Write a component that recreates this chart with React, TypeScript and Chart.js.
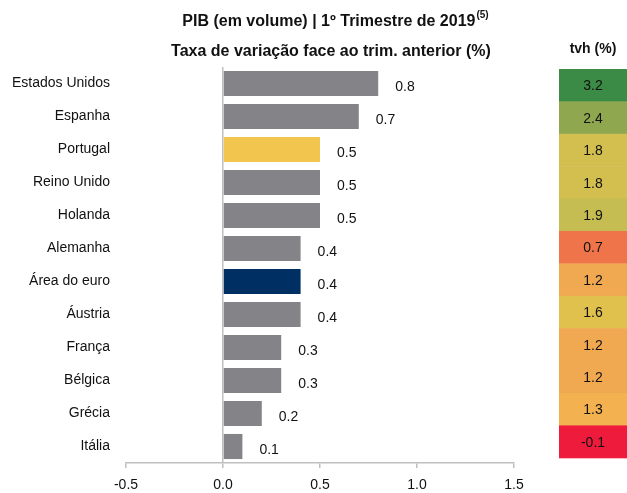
import React, { useEffect, useRef } from "react";
import { Chart, registerables } from "chart.js";

Chart.register(...registerables);

const countries = [
  "Estados Unidos",
  "Espanha",
  "Portugal",
  "Reino Unido",
  "Holanda",
  "Alemanha",
  "Área do euro",
  "Áustria",
  "França",
  "Bélgica",
  "Grécia",
  "Itália",
];
const qoqValues = [0.8, 0.7, 0.5, 0.5, 0.5, 0.4, 0.4, 0.4, 0.3, 0.3, 0.2, 0.1];
const barColors = [
  "#848488", "#848488", "#f2c54e", "#848488", "#848488", "#848488",
  "#003063", "#848488", "#848488", "#848488", "#848488", "#848488",
];
const tvhValues = ["3.2", "2.4", "1.8", "1.8", "1.9", "0.7", "1.2", "1.6", "1.2", "1.2", "1.3", "-0.1"];
const tvhColors = [
  "#3b8a45", "#8fa84f", "#d3bf4f", "#d3bf4f", "#c5bc52", "#f0744a",
  "#f0a851", "#e0c14e", "#f0a851", "#f0a851", "#f3b14f", "#ee1b3c",
];
const xTicks = [-0.5, 0, 0.5, 1.0, 1.5];

const FONT = "'Liberation Sans', Arial, sans-serif";

const overlayPlugin = {
  id: "overlay",
  afterDraw(chart: any) {
    const ctx = chart.ctx;
    const meta = chart.getDatasetMeta(0);
    ctx.save();
    // value labels
    ctx.font = `14px ${FONT}`;
    ctx.fillStyle = "#111";
    ctx.textAlign = "left";
    ctx.textBaseline = "middle";
    meta.data.forEach((bar: any, i: number) => {
      ctx.fillText(qoqValues[i].toFixed(1), bar.x + 17, bar.y + 4);
    });
    // title
    ctx.font = `bold 16px ${FONT}`;
    ctx.textAlign = "left";
    ctx.textBaseline = "alphabetic";
    const t1 = "PIB (em volume) | 1º Trimestre de 2019";
    const sup = "(5)";
    const w1 = ctx.measureText(t1).width;
    ctx.font = `bold 10px ${FONT}`;
    const ws = ctx.measureText(sup).width;
    const startX = 335 - (w1 + ws) / 2;
    ctx.font = `bold 16px ${FONT}`;
    ctx.fillText(t1, startX, 26);
    ctx.font = `bold 10px ${FONT}`;
    ctx.fillText(sup, startX + w1 + 1, 18);
    ctx.font = `bold 16px ${FONT}`;
    ctx.textAlign = "center";
    ctx.fillText("Taxa de variação face ao trim. anterior (%)", 331, 56);
    // tvh header
    ctx.font = `bold 14px ${FONT}`;
    ctx.fillText("tvh (%)", 593, 53);
    // tvh cells
    ctx.font = `14px ${FONT}`;
    ctx.textBaseline = "middle";
    countries.forEach((_c, i) => {
      const y0 = 69 + i * 32.4;
      ctx.fillStyle = tvhColors[i];
      ctx.fillRect(559, y0, 68, 32.4 + 0.5);
      ctx.fillStyle = "#111";
      ctx.fillText(tvhValues[i], 593, y0 + 17.5);
    });
    ctx.restore();
  },
};

export default function App() {
  const ref = useRef<HTMLCanvasElement | null>(null);
  useEffect(() => {
    document.body.style.margin = "0";
    const chart = new Chart(ref.current as HTMLCanvasElement, {
      type: "bar",
      data: {
        labels: countries,
        datasets: [
          {
            data: qoqValues,
            backgroundColor: barColors,
            categoryPercentage: 1,
            barPercentage: 0.76,
          },
        ],
      },
      options: {
        indexAxis: "y",
        animation: false,
        responsive: false,
        layout: { padding: { top: 67, right: 113, left: 0, bottom: 0 } },
        plugins: { legend: { display: false }, tooltip: { enabled: false }, title: { display: false } },
        scales: {
          x: {
            min: -0.5,
            max: 1.5,
            afterBuildTicks: (scale: any) => {
              scale.ticks = xTicks.map((v) => ({ value: v }));
            },
            afterFit: (scale: any) => {
              scale.height = 30;
            },
            grid: {
              drawOnChartArea: true,
              color: (c: any) => (c.tick && c.tick.value === 0 ? "#bfbfbf" : "rgba(0,0,0,0)"),
              tickColor: "#bfbfbf",
              tickLength: 5,
              lineWidth: 1.5,
            },
            border: { display: true, color: "#bfbfbf", width: 1.5 },
            ticks: {
              color: "#111",
              font: { family: FONT, size: 14 },
              padding: 9,
              maxRotation: 0,
              callback: (v: any) => Number(v).toFixed(1),
            },
          },
          y: {
            afterFit: (scale: any) => {
              scale.width = 126;
            },
            grid: { display: false, drawTicks: false },
            border: { display: false },
            ticks: {
              color: "#111",
              font: { family: FONT, size: 14 },
              padding: 16,
            },
          },
        },
      },
      plugins: [overlayPlugin],
    });
    return () => chart.destroy();
  }, []);
  return (
    <div style={{ width: 627, height: 493 }}>
      <canvas ref={ref} width={627} height={493} style={{ display: "block" }} />
    </div>
  );
}
